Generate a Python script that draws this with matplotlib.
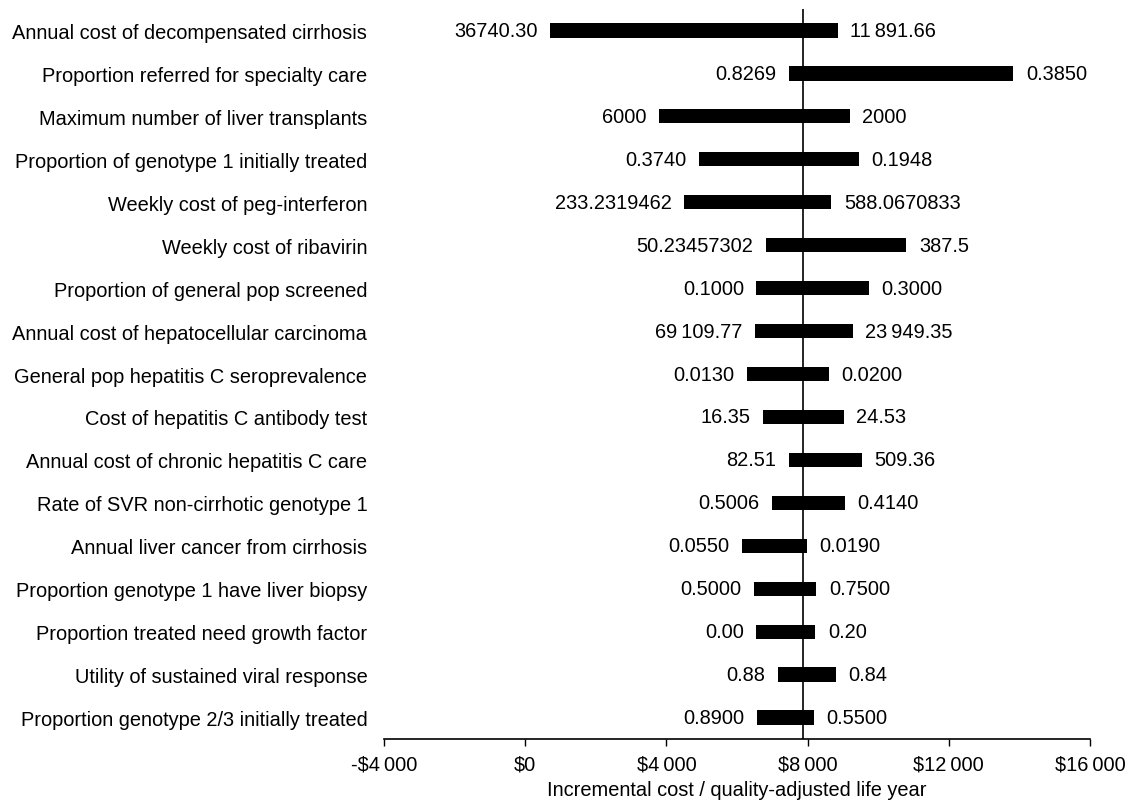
import numpy as np
from matplotlib import pyplot as plt

plt.rcParams['font.family'] = ['Liberation Sans', 'DejaVu Sans']

# parameters, top to bottom
params = ['Annual cost of decompensated cirrhosis',
          'Proportion referred for specialty care',
          'Maximum number of liver transplants',
          'Proportion of genotype 1 initially treated',
          'Weekly cost of peg-interferon',
          'Weekly cost of ribavirin',
          'Proportion of general pop screened',
          'Annual cost of hepatocellular carcinoma',
          'General pop hepatitis C seroprevalence',
          'Cost of hepatitis C antibody test',
          'Annual cost of chronic hepatitis C care',
          'Rate of SVR non-cirrhotic genotype 1',
          'Annual liver cancer from cirrhosis',
          'Proportion genotype 1 have liver biopsy',
          'Proportion treated need growth factor',
          'Utility of sustained viral response',
          'Proportion genotype 2/3 initially treated']

# ICER at each end of the bar
icer_low = [700, 7480, 3800, 4930, 4500, 6810, 6550, 6520, 6270,
            6750, 7460, 6985, 6150, 6480, 6550, 7160, 6570]
icer_high = [8860, 13830, 9190, 9450, 8670, 10800, 9730, 9280, 8600,
             9020, 9530, 9050, 7970, 8250, 8220, 8800, 8170]

# input values shown at each end
label_low = ['36740.30', '0.8269', '6000', '0.3740', '233.2319462',
             '50.23457302', '0.1000', '69\u2009109.77', '0.0130', '16.35',
             '82.51', '0.5006', '0.0550', '0.5000', '0.00', '0.88', '0.8900']
label_high = ['11\u2009891.66', '0.3850', '2000', '0.1948', '588.0670833',
              '387.5', '0.3000', '23\u2009949.35', '0.0200', '24.53',
              '509.36', '0.4140', '0.0190', '0.7500', '0.20', '0.84', '0.5500']

base_icer = 7870
xticks = [-4000, 0, 4000, 8000, 12000, 16000]
xticklabels = ['-$4\u2009000', '$0', '$4\u2009000', '$8\u2009000',
               '$12\u2009000', '$16\u2009000']

fs = 14.4
fig = plt.figure(figsize=(11.27, 8.03), dpi=100)
ax = fig.add_axes([0.3407, 0.0785, 0.6265, 0.909])

n = len(params)
y = np.arange(n)[::-1]
lo = np.array(icer_low)
hi = np.array(icer_high)
ax.barh(y, hi - lo, left=lo, height=0.33, color='black')

for i in range(n):
    ax.annotate(label_low[i], (lo[i], y[i]), xytext=(-9, 0),
                textcoords='offset points', ha='right', va='center', fontsize=fs)
    ax.annotate(label_high[i], (hi[i], y[i]), xytext=(9, 0),
                textcoords='offset points', ha='left', va='center', fontsize=fs)

ax.axvline(base_icer, color='black', linewidth=1.2)

ax.set_xlim(-4000, 16000)
ax.set_ylim(-0.5, n - 0.5)
ax.set_xticks(xticks)
ax.set_xticklabels(xticklabels, fontsize=fs)
ax.set_yticks(y)
ax.set_yticklabels(params, fontsize=fs)
ax.tick_params(axis='y', length=0, pad=12)
ax.tick_params(axis='x', direction='out', length=5, width=1, pad=6)
for s in ['top', 'right', 'left']:
    ax.spines[s].set_visible(False)
ax.spines['bottom'].set_linewidth(1.2)
ax.set_xlabel('Incremental cost / quality-adjusted life year', fontsize=fs, labelpad=5)

plt.savefig('out.png')
plt.close()
